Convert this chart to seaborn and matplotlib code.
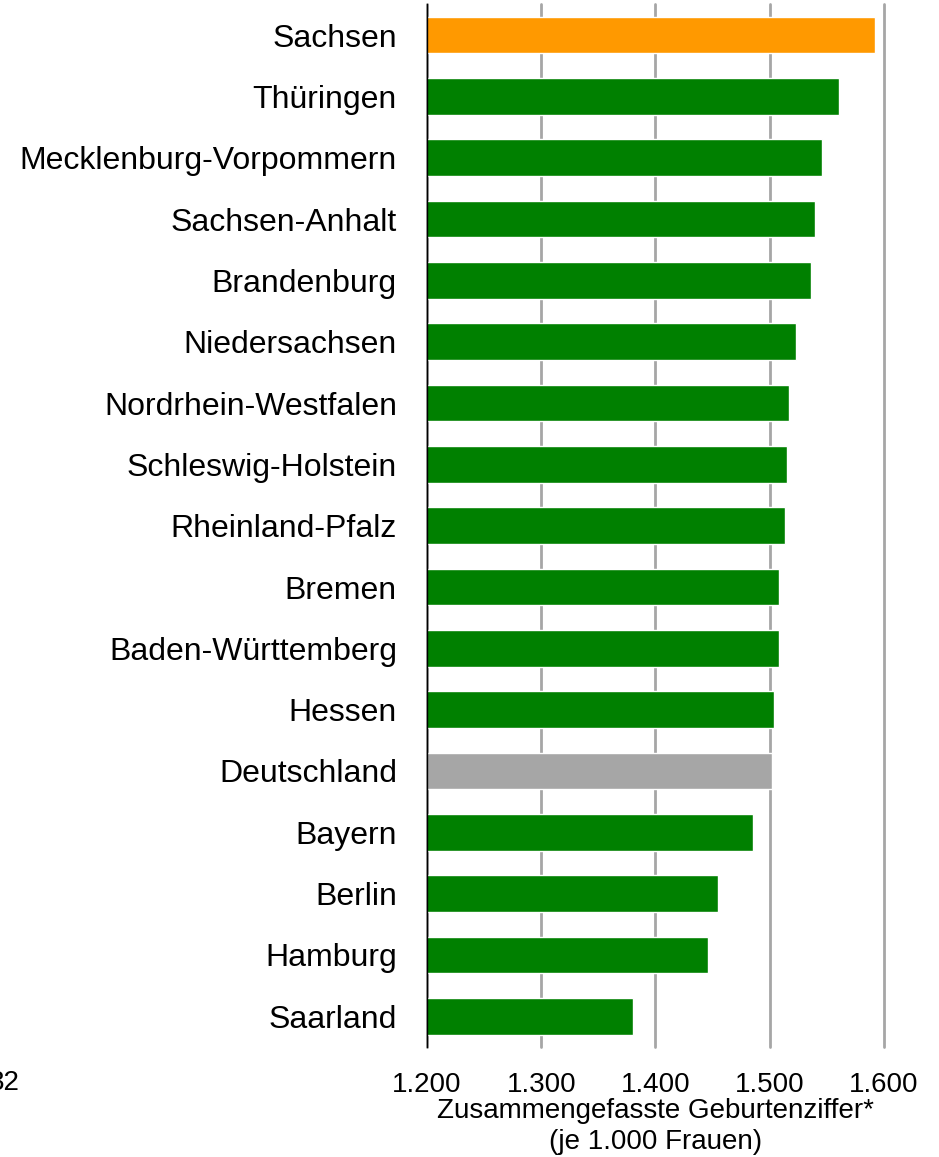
import pandas as pd
import matplotlib
matplotlib.use("Agg")
import matplotlib.pyplot as plt
import matplotlib.ticker as mticker
import seaborn as sns

# Daten
laender = ["Sachsen", "Thüringen", "Mecklenburg-Vorpommern", "Sachsen-Anhalt",
           "Brandenburg", "Niedersachsen", "Nordrhein-Westfalen", "Schleswig-Holstein",
           "Rheinland-Pfalz", "Bremen", "Baden-Württemberg", "Hessen", "Deutschland",
           "Bayern", "Berlin", "Hamburg", "Saarland"]
werte = [1.592, 1.561, 1.546, 1.540, 1.536, 1.523, 1.517, 1.515,
         1.513, 1.508, 1.508, 1.504, 1.502, 1.485, 1.455, 1.446, 1.380]
x_ticks = [1.2, 1.3, 1.4, 1.5, 1.6]

GRUEN = "#008000"
ORANGE = "#FF9900"
GRAU = "#A6A6A6"

farben = {}
for land in laender:
    if land == "Sachsen":
        farben[land] = ORANGE
    elif land == "Deutschland":
        farben[land] = GRAU
    else:
        farben[land] = GRUEN

df = pd.DataFrame({"Land": laender, "Wert": werte})

sns.set_style("white")
plt.rcParams['font.family'] = ['Liberation Sans', 'DejaVu Sans']

fig = plt.figure(figsize=(9.39, 11.57), dpi=100)
ax = fig.add_axes([0.4547, 0.0951, 0.9414 - 0.4547, 0.9962 - 0.0951])

sns.barplot(data=df, x="Wert", y="Land", hue="Land", palette=farben,
            legend=False, width=0.6, orient="h", ax=ax, saturation=1)

ax.set_xlim(1.2, 1.6)
ax.set_ylim(16.5, -0.5)
ax.set_xticks(x_ticks)
ax.xaxis.set_major_formatter(mticker.FuncFormatter(lambda v, p: f"{v:.3f}"))
ax.set_axisbelow(True)
ax.grid(axis="x", color="#A6A6A6", linewidth=2)
ax.grid(axis="y", visible=False)
for gl in ax.get_xgridlines():
    gl.set_clip_on(False)

for s in ["top", "right", "bottom"]:
    ax.spines[s].set_visible(False)
ax.spines["left"].set_color("black")
ax.spines["left"].set_linewidth(1)
ax.spines["left"].set_zorder(5)

ax.tick_params(axis="both", length=0, colors="black")
ax.tick_params(axis="y", pad=21.6, labelsize=23)
ax.tick_params(axis="x", pad=18, labelsize=20)

ax.set_ylabel("")
ax.set_xlabel("Zusammengefasste Geburtenziffer*\n(je 1.000 Frauen)", fontsize=20,
              labelpad=0, linespacing=1.25, color="black")

fig.text(-0.012, 0.064, "32", fontsize=20, ha="left", va="center", color="black")

fig.savefig("out.png", dpi=100)
